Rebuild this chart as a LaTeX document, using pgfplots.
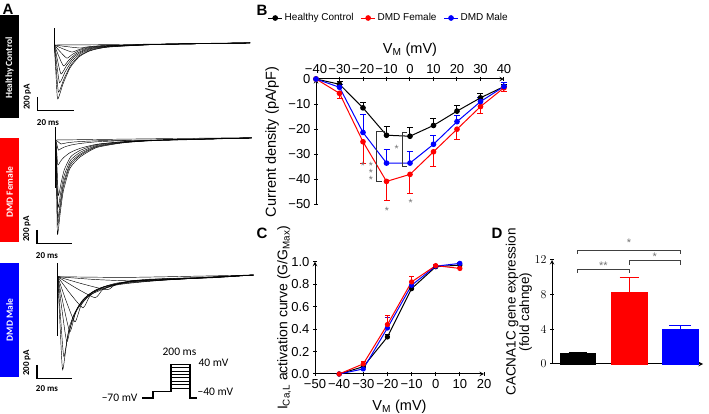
\documentclass[border=0pt]{standalone}
\usepackage{fontspec}
\setmainfont{Liberation Sans}
\newfontfamily\calib{Carlito}
\usepackage{pgfplots}
\pgfplotsset{compat=1.18}
\usepackage{pgfplotstable}

\newcommand{\fs}[1]{\fontsize{#1}{#1}\selectfont}
\definecolor{sig}{gray}{0.45}

% current density (pA/pF) vs V_M, error = SEM
\pgfplotstableread{
v i e
-40 0 0
-30 -2.1 1.0
-20 -11.5 2.0
-10 -22.4 3.5
0 -22.8 3.3
10 -18.5 2.8
20 -12.8 2.2
30 -7.5 1.8
40 -3.0 1.0
}\ivHC
\pgfplotstableread{
v i e
-40 0 0
-30 -5.7 2.0
-20 -25.0 8.5
-10 -40.8 7.6
0 -38.0 7.5
10 -29.0 6.0
20 -20.0 4.0
30 -11.0 2.7
40 -3.5 1.5
}\ivDF
\pgfplotstableread{
v i e
-40 0 0
-30 -3.3 1.0
-20 -21.3 7.0
-10 -33.5 5.4
0 -33.5 4.8
10 -26.0 3.4
20 -17.0 2.6
30 -9.0 1.5
40 -3.0 1.5
}\ivDM

% activation curve G/Gmax
\pgfplotstableread{
v g e
-40 0 0
-30 0.065 0.01
-20 0.33 0.02
-10 0.76 0.02
0 0.955 0.01
10 0.97 0.01
}\acHC
\pgfplotstableread{
v g e
-40 0 0
-30 0.09 0.02
-20 0.44 0.08
-10 0.82 0.05
0 0.965 0.01
10 0.94 0.01
}\acDF
\pgfplotstableread{
v g e
-40 0 0
-30 0.045 0.01
-20 0.41 0.09
-10 0.79 0.03
0 0.96 0.01
10 0.985 0.01
}\acDM

\pgfplotsset{
  trace/.style={hide axis, x=1.78pt, y=0.0675pt, xmin=0, xmax=110,
    ymin=-1500, ymax=300, clip=false, enlargelimits=false, anchor=south west,
    cycle list={{black, solid, mark=none}},
    every axis plot/.append style={line width=0.45pt, smooth, tension=0.35}},
  panel/.style={scale only axis, anchor=south west, enlargelimits=false, clip=false,
    axis line style={-, line width=1pt}, tick align=outside, major tick length=4pt,
    tick style={black, line width=1pt}, tick label style={font=\fs{13}}},
  error bars/emark/.style={error mark options={rotate=90, mark size=#1, line width=1pt}},
}

\begin{document}
\begin{tikzpicture}
\useasboundingbox (0,0) rectangle (709pt,414pt);

%% A: healthy control traces
\begin{axis}[trace, at={(54.3pt,267.75pt)}]
\addplot[line width=1pt] coordinates {(0,250) (0,0)};
\addplot coordinates {(0,0) (0.95,-440) (1.9,-800) (4.9,-576) (8.9,-336) (13.9,-176) (19.9,-88) (29.9,-32) (60,10) (110,30)};
\addplot coordinates {(0,0) (1.2,-385) (2.4,-700) (5.4,-504) (9.4,-294) (14.4,-154) (20.4,-77) (30.4,-28) (60,10) (110,30)};
\addplot coordinates {(0,0) (1.5,-308) (3,-560) (6,-403) (10,-235) (15,-123) (21,-62) (31,-22) (60,10) (110,30)};
\addplot coordinates {(0,0) (1.9,-237) (3.8,-430) (6.8,-310) (10.8,-181) (15.8,-95) (21.8,-47) (31.8,-17) (60,10) (110,30)};
\addplot coordinates {(0,0) (2.6,-171) (5.2,-310) (8.2,-223) (12.2,-130) (17.2,-68) (23.2,-34) (33.2,-12) (60,10) (110,30)};
\addplot coordinates {(0,0) (3.55,-107) (7.1,-195) (10.1,-140) (14.1,-82) (19.1,-43) (25.1,-21) (35.1,-8) (60,10) (110,30)};
\addplot coordinates {(0,0) (5,-58) (10,-105) (13,-76) (17,-44) (22,-23) (28,-12) (38,-4) (60,10) (110,30)};
\addplot coordinates {(0,0) (7.25,-25) (14.5,-45) (17.5,-32) (21.5,-19) (26.5,-10) (32.5,-5) (42.5,-2) (60,10) (110,30)};
\addplot coordinates {(0,0) (30,5) (60,15) (110,35)};
\end{axis}

%% A: DMD female traces
\begin{axis}[trace, at={(55.7pt,172.75pt)}]
\addplot[line width=1pt] coordinates {(0,190) (0,-700)};
\addplot coordinates {(0,0) (0.5,-700) (1,-1400) (2.5,-1092) (4.3,-756) (8,-420) (13.7,-252) (23,-112) (38,-42) (60,0) (110,30)};
\addplot coordinates {(0,0) (0.55,-630) (1.1,-1260) (2.6,-983) (4.4,-680) (8.1,-378) (13.8,-227) (23.1,-101) (38.1,-38) (60,0) (110,30)};
\addplot coordinates {(0,0) (0.6,-575) (1.2,-1150) (2.7,-897) (4.5,-621) (8.2,-345) (13.9,-207) (23.2,-92) (38.2,-35) (60,0) (110,30)};
\addplot coordinates {(0,0) (0.65,-500) (1.3,-1000) (2.8,-780) (4.6,-540) (8.3,-300) (14,-180) (23.3,-80) (38.3,-30) (60,0) (110,30)};
\addplot coordinates {(0,0) (0.75,-410) (1.5,-820) (3,-640) (4.8,-443) (8.5,-246) (14.2,-148) (23.5,-66) (38.5,-25) (60,0) (110,30)};
\addplot coordinates {(0,0) (0.6,-185) (1.2,-370) (2.7,-315) (4.5,-259) (8.2,-185) (13.9,-122) (23.2,-63) (38.2,-26) (60,-7) (110,30)};
\addplot coordinates {(0,0) (0.75,-75) (1.5,-150) (3,-128) (4.8,-105) (8.5,-75) (14.2,-50) (23.5,-26) (38.5,-10) (60,0) (110,30)};
\addplot coordinates {(0,0) (1.5,-30) (3,-60) (4.5,-51) (6.3,-42) (10,-30) (15.7,-20) (25,-10) (40,-4) (60,0) (110,30)};
\addplot coordinates {(0,0) (30,10) (60,20) (110,35)};
\end{axis}

%% A: DMD male traces
\begin{axis}[trace, at={(57.7pt,36.05pt)}]
\addplot[line width=1.2pt] coordinates {(0,200) (0,-880)};
\addplot coordinates {(0,0) (1.4,-759) (2.8,-1380) (5.8,-856) (10.8,-497) (17.8,-276) (32.8,-124) (57.8,-55) (110,25)};
\addplot coordinates {(0,0) (1.75,-652) (3.5,-1185) (6.65,-735) (11.9,-427) (19.25,-237) (35,-107) (61.25,-47) (110,25)};
\addplot coordinates {(0,0) (2.6,-530) (5.2,-963) (8.5,-597) (14,-347) (21.7,-193) (38.2,-87) (65.7,-39) (110,25)};
\addplot coordinates {(0,0) (3.45,-448) (6.9,-815) (10.35,-505) (16.1,-293) (24.15,-163) (41.4,-73) (70.15,-33) (110,25)};
\addplot coordinates {(0,0) (4.85,-367) (9.7,-667) (13.3,-414) (19.3,-240) (27.7,-133) (45.7,-60) (75.7,-27) (110,25)};
\addplot coordinates {(0,0) (7.1,-253) (14.2,-460) (18.1,-285) (24.6,-166) (33.7,-92) (53.2,-41) (85.7,-18) (110,25)};
\addplot coordinates {(0,0) (10.5,-171) (21,-311) (25.2,-193) (32.2,-112) (42,-62) (63,-28) (90,-10) (110,25)};
\addplot coordinates {(0,0) (13.85,-106) (27.7,-193) (32.2,-120) (39.7,-69) (50.2,-39) (72.7,-17) (110,25)};
\addplot coordinates {(0,0) (20,-40) (40,-60) (70,-30) (110,25)};
\addplot coordinates {(0,0) (40,-10) (110,25)};
\end{axis}

%% decorations of panel A, in pixel units of the reference
\begin{scope}[shift={(0pt,414pt)}, x=1pt, y=-1pt]
\node[font=\bfseries\fs{15}] at (8,9) {A};
\node[font=\bfseries\fs{15}] at (262,10) {B};
\node[font=\bfseries\fs{15}] at (262,233) {C};
\node[font=\bfseries\fs{15}] at (497,233) {D};

\fill[black] (0,15) rectangle (19,118);
\fill[red] (0,138) rectangle (19,242);
\fill[blue] (0,263) rectangle (19,377);
\node[rotate=90, white, font=\calib\bfseries\fs{9.5}] at (9.5,68) {Healthy Control};
\node[rotate=90, white, font=\calib\bfseries\fs{9.5}] at (9.5,192) {DMD Female};
\node[rotate=90, white, font=\calib\bfseries\fs{9.5}] at (9.5,320) {DMD Male};

\draw[line width=1.3pt] (37.5,97) -- (37.5,110.5) -- (73.5,110.5);
\node[rotate=90, font=\calib\bfseries\fs{9}] at (27.5,97) {200 pA};
\node[font=\calib\bfseries\fs{9}] at (48,122.5) {20 ms};
\draw[line width=1.3pt] (37,230) -- (37,243.5) -- (72,243.5);
\node[rotate=90, font=\calib\bfseries\fs{9}] at (27,229) {200 pA};
\node[font=\calib\bfseries\fs{9}] at (47,256) {20 ms};
\draw[line width=1.3pt] (37,365) -- (37,378.5) -- (72,378.5);
\node[rotate=90, font=\calib\bfseries\fs{9}] at (27,363) {200 pA};
\node[font=\calib\bfseries\fs{9}] at (47,389) {20 ms};

% voltage protocol
\draw[line width=1.1pt] (142,398) -- (153,398) -- (153,391.7) -- (171,391.7)
  -- (171,364.3) -- (190,364.3) -- (190,398) -- (197,398);
\foreach \yy in {367.7,371.1,374.5,377.9,381.3,384.7,388.1}
  \draw[line width=0.8pt] (171,\yy) -- (190,\yy);
\node[anchor=east, font=\calib\fs{11.5}] at (141,398) {−70 mV};
\node[font=\calib\fs{11.5}] at (179.5,352) {200 ms};
\node[anchor=west, font=\calib\fs{11.5}] at (195,363) {40 mV};
\node[anchor=west, font=\calib\fs{11.5}] at (194,391.5) {−40 mV};
\end{scope}

%% B: current density
\begin{axis}[panel, at={(316pt,209.5pt)}, width=188pt, height=125.5pt,
  xmin=-40, xmax=40, ymin=-50, ymax=0,
  axis x line=top, axis y line=left,
  xtick={-40,-30,...,40}, xticklabels={−40,−30,−20,−10,0,10,20,30,40},
  ytick={-50,-40,...,0}, yticklabels={−50,−40,−30,−20,−10,0},
  xlabel={V\textsubscript{M} (mV)}, ylabel={Current density (pA/pF)},
  xlabel style={at={(axis description cs:0.5,1.231)}, anchor=center, font=\fs{14.5}},
  ylabel style={at={(axis description cs:-0.234,0.5)}, anchor=center, font=\fs{14.5}},
  legend style={at={(axis description cs:0.387,1.486)}, anchor=center, draw=none,
    fill=none, legend columns=-1, font=\fs{10},
    /tikz/every even column/.append style={column sep=5pt}},
  legend image code/.code={\draw[#1] (0pt,0pt) -- (14pt,0pt); \draw[#1, mark repeat=2, mark phase=2] plot coordinates {(0pt,0pt) (7pt,0pt) (14pt,0pt)};},
]
\addplot[black, line width=1pt, mark=*, mark size=2.3pt,
  error bars/.cd, y dir=plus, y explicit,
  error bar style={line width=1pt}, emark=3pt]
  table[x=v, y=i, y error=e] {\ivHC};
\addplot[red, line width=1pt, mark=*, mark size=2.3pt,
  error bars/.cd, y dir=minus, y explicit,
  error bar style={line width=1pt}, emark=3pt]
  table[x=v, y=i, y error=e] {\ivDF};
\addplot[blue, line width=1pt, mark=*, mark size=2.3pt,
  error bars/.cd, y dir=plus, y explicit,
  error bar style={line width=1pt}, emark=3pt]
  table[x=v, y=i, y error=e] {\ivDM};
\legend{Healthy Control, DMD Female, DMD Male}
% significance
\draw[black!80, line width=0.8pt] (axis cs:-10.5,-21) -- (axis cs:-14.2,-21)
  -- (axis cs:-14.2,-40.9) -- (axis cs:-12,-40.9);
\draw[black!80, line width=0.8pt] (axis cs:-1.2,-21.4) -- (axis cs:-3.1,-21.4)
  -- (axis cs:-3.1,-34.7) -- (axis cs:-1.2,-34.7);
\node[sig, font=\fs{10.5}, yshift=-2.5pt] at (axis cs:-20,-33.6) {*};
\node[sig, font=\fs{10.5}, align=center, inner sep=0pt, anchor=north]
  at (axis cs:-16.6,-33.2) {*\\[-3.4pt]*\\[-3.4pt]*};
\node[sig, font=\fs{10.5}, yshift=-2.5pt] at (axis cs:-5.7,-27) {*};
\node[sig, font=\fs{10.5}, yshift=-2.5pt] at (axis cs:-9.8,-51.4) {*};
\node[sig, font=\fs{10.5}, yshift=-2.5pt] at (axis cs:0.3,-48.2) {*};
\end{axis}

%% C: activation curve
\begin{axis}[panel, at={(315pt,40pt)}, width=169pt, height=112.3pt,
  xmin=-50, xmax=20, ymin=0, ymax=1,
  axis lines=left,
  xtick={-50,-40,...,20}, xticklabels={−50,−40,−30,−20,−10,0,10,20},
  ytick={0,0.2,...,1.0}, yticklabels={0.0,0.2,0.4,0.6,0.8,1.0},
  xlabel={V\textsubscript{M} (mV)},
  ylabel={I\textsubscript{Ca,L} activation curve (G/G\textsubscript{Max})},
  xlabel style={at={(axis description cs:0.5,-0.294)}, anchor=center, font=\fs{14.5}},
  ylabel style={at={(axis description cs:-0.183,0.5)}, anchor=center, font=\fs{14}},
]
\addplot[black, line width=1pt, mark=*, mark size=2.1pt,
  error bars/.cd, y dir=plus, y explicit,
  error bar style={line width=0.8pt}, emark=2.5pt]
  table[x=v, y=g, y error=e] {\acHC};
\addplot[blue, line width=1pt, mark=*, mark size=2.1pt,
  error bars/.cd, y dir=plus, y explicit,
  error bar style={line width=0.8pt, blue!70!red}, emark=2.5pt]
  table[x=v, y=g, y error=e] {\acDM};
\addplot[red, line width=1pt, mark=*, mark size=2.1pt,
  error bars/.cd, y dir=plus, y explicit,
  error bar style={line width=0.8pt}, emark=2.5pt]
  table[x=v, y=g, y error=e] {\acDF};
\end{axis}

%% D: CACNA1C expression
\begin{axis}[panel, at={(552pt,50pt)}, width=151pt, height=104pt,
  xmin=-0.5, xmax=2.44, ymin=0, ymax=12,
  axis lines=left, xtick=\empty, ytick={0,4,8,12},
  ylabel={CACNA1C gene expression\\(fold cahnge)},
  ylabel style={at={(axis description cs:-0.219,0.5)}, anchor=center, align=center, font=\fs{13.5}},
]
\addplot[ybar, bar shift=0pt, bar width=35.6pt, fill=black, draw=black,
  error bars/.cd, y dir=plus, y explicit,
  error bar style={line width=1pt, black}, emark=9pt]
  coordinates {(0,1.23) +- (0,0.12)};
\addplot[ybar, bar shift=0pt, bar width=35.6pt, fill=red, draw=red,
  error bars/.cd, y dir=plus, y explicit,
  error bar style={line width=1pt, red}, emark=9.5pt]
  coordinates {(1,8.27) +- (0,1.75)};
\addplot[ybar, bar shift=0pt, bar width=35.6pt, fill=blue, draw=blue,
  error bars/.cd, y dir=plus, y explicit,
  error bar style={line width=1pt, blue}, emark=11pt]
  coordinates {(2,4.04) +- (0,0.35)};
\draw[black!75, line width=0.8pt] (axis cs:0,10.53) -- (axis cs:0,10.96) -- (axis cs:1,10.96) -- (axis cs:1,10.53);
\draw[black!75, line width=0.8pt] (axis cs:1,11.42) -- (axis cs:1,11.92) -- (axis cs:2,11.92) -- (axis cs:2,11.42);
\draw[black!75, line width=0.8pt] (axis cs:0,12.7) -- (axis cs:0,13.15) -- (axis cs:2,13.15) -- (axis cs:2,12.7);
\node[sig, font=\fs{11}, yshift=-2.5pt] at (axis cs:0.5,11.65) {**};
\node[sig, font=\fs{11}, yshift=-2.5pt] at (axis cs:1.5,12.7) {*};
\node[sig, font=\fs{11}, yshift=-2.5pt] at (axis cs:1,14.3) {*};
\end{axis}
\end{tikzpicture}
\end{document}
